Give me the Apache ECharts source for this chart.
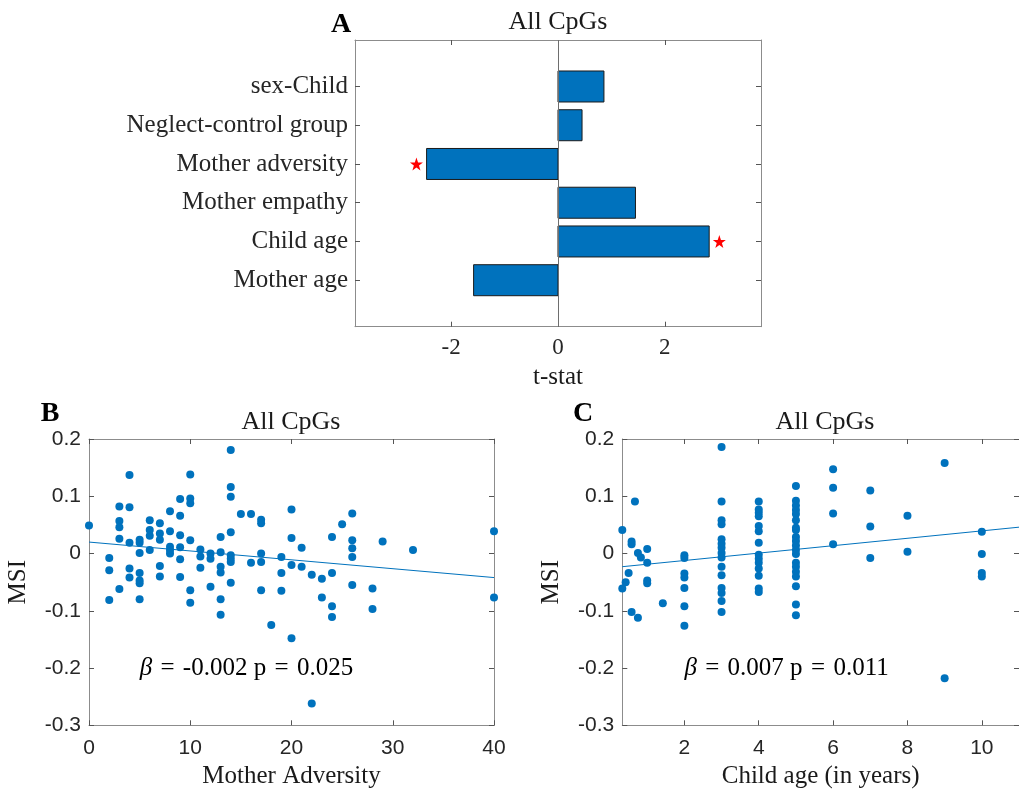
<!DOCTYPE html>
<html>
<head>
<meta charset="utf-8">
<script src="https://cdn.jsdelivr.net/npm/echarts@6/dist/echarts.min.js"></script>
<style>
html,body{margin:0;padding:0;background:#fff;}
#chart{width:1019px;height:791px;}
</style>
</head>
<body>
<div id="chart"></div>
<script>
// ---------- Panel A data ----------
const catNames = ['Mother age', 'Child age', 'Mother empathy', 'Mother adversity', 'Neglect-control group', 'sex-Child'];
const tStats   = [-1.58, 2.83, 1.45, -2.46, 0.45, 0.86];
const sigFlags = [false, true, false, true, false, false];
const tTicks   = [-2, 0, 2];

// ---------- Panel B data (Mother Adversity vs MSI) ----------
const advX = [0,
  2,2,2,
  3,3,3,3,3,
  4,4,4,4,4,
  5,5,5,5,5,5,5,
  6,6,6,6,
  7,7,7,7,7,
  8,8,8,8,8,
  9,9,9,9,9,9,
  10,10,10,10,10,10,
  11,11,11,
  12,12,12,
  13,13,13,13,13,13,
  14,14,14,14,14,14,14,14,
  15,
  16,16,
  17,17,17,17,17,
  18,
  19,19,19,
  20,20,20,20,
  21,21,
  22,22,
  23,23,
  24,24,24,24,
  25,
  26,26,26,26,26,
  28,28,
  29,
  32,
  40,40];
const advMSI = [0.049,
  -0.008,-0.029,-0.081,
  0.082,0.057,0.046,0.026,-0.062,
  0.137,0.081,0.019,-0.026,-0.042,
  0.024,0.019,0.001,-0.034,-0.047,-0.052,-0.080,
  0.058,0.041,0.031,0.006,
  0.053,0.035,0.024,-0.022,-0.040,
  0.074,0.039,0.012,0.006,0.000,
  0.095,0.066,0.032,0.011,-0.010,-0.041,
  0.138,0.096,0.088,0.023,-0.064,-0.086,
  0.007,-0.005,-0.025,
  0.000,-0.009,-0.058,
  0.029,0.002,-0.023,-0.033,-0.080,-0.107,
  0.181,0.116,0.099,0.037,-0.003,-0.009,-0.015,-0.051,
  0.069,
  0.069,-0.016,
  0.059,0.053,0.000,-0.015,-0.064,
  -0.125,
  -0.006,-0.034,-0.065,
  0.077,0.027,-0.020,-0.148,
  0.010,-0.023,
  -0.037,-0.262,
  -0.044,-0.077,
  0.029,-0.034,-0.092,-0.111,
  0.051,
  0.070,0.023,0.009,-0.006,-0.055,
  -0.061,-0.097,
  0.021,
  0.006,
  0.039,-0.077];
const fitBX = [0, 40];
const fitBY = [0.020, -0.042];
const betaB = '-0.002', pB = '0.025';

// ---------- Panel C data (Child age vs MSI) ----------
const ageX = [0.33,0.33,0.42,0.5,0.58,0.58,0.67,0.75,0.83,1,1,1,1,0.58,0.75,1.42,
  2,2,2,2,2,2,2,
  3,3,3,3,3,3,3,3,3,3,3,3,3,3,3,
  4,4,4,4,4,4,4,4,4,4,4,4,4,4,
  5,5,5,5,5,5,5,5,5,5,5,5,5,5,5,5,5,5,5,5,
  6,6,6,6,
  7,7,7,
  8,8,
  9,9,
  10,10,10,10];
const ageMSI = [0.041,-0.061,-0.050,-0.034,0.021,0.016,0.091,0.001,-0.007,0.008,-0.016,-0.047,-0.052,-0.102,-0.112,-0.087,
  -0.003,-0.008,-0.035,-0.042,-0.060,-0.092,-0.126,
  0.186,0.091,0.058,0.051,0.025,0.017,0.010,0.001,-0.007,-0.023,-0.038,-0.060,-0.069,-0.083,-0.102,
  0.091,0.077,0.071,0.065,0.048,0.039,0.019,-0.002,-0.009,-0.016,-0.026,-0.039,-0.061,-0.067,
  0.118,0.092,0.084,0.076,0.069,0.058,0.045,0.041,0.029,0.022,0.014,0.006,-0.001,-0.016,-0.023,-0.032,-0.040,-0.057,-0.089,-0.108,
  0.147,0.115,0.070,0.016,
  0.110,0.047,-0.008,
  0.066,0.003,
  0.158,-0.218,
  0.038,-0.001,-0.034,-0.040];
const fitCX = [0.33, 11];
const fitCY = [-0.023, 0.046];
const betaC = '0.007', pC = '0.011';
const ageTicks = [2, 4, 6, 8, 10];

// ---------- styling ----------
const serif = "'Liberation Serif', 'Times New Roman', serif";
const sans = "'Liberation Sans', Arial, sans-serif";
const axisGray = '#8c8c8c';
const tickTxt = '#262626';
const blue = '#0072BD';
const sp = '\u2004';

const chart = echarts.init(document.getElementById('chart'), null, {renderer: 'canvas'});

function baseAxis(extra) {
  return Object.assign({
    type: 'value',
    axisLine: {show: true, onZero: false, lineStyle: {color: axisGray, width: 1}},
    axisTick: {show: true, inside: true, length: 5, lineStyle: {color: '#555', width: 1}},
    splitLine: {show: false},
    axisLabel: {show: false}
  }, extra);
}

const starPath = 'path://M50,0 L61.8,35.1 L97.6,34.5 L68.8,56.9 L79.4,90.9 L50,70.5 L20.6,90.9 L31.2,56.9 L2.4,34.5 L38.2,35.1 Z';

const barData = tStats.map((v, i) => [v, i + 1]);
const starData = [];
tStats.forEach((v, i) => { if (sigFlags[i]) starData.push([Math.sign(v) * (Math.abs(v) + 0.19), i + 1]); });

const posTicks = catNames.map((_, i) => i + 1);

function annot(xi, pos, beta, p) {
  return {
    type: 'scatter', xAxisIndex: xi, yAxisIndex: xi,
    data: [pos], symbolSize: 0, silent: true,
    itemStyle: {opacity: 1},
    label: {show: true, position: 'right', distance: 0, opacity: 1,
      formatter: '{it|\u03B2}' + sp + '=' + sp + beta + ' p' + sp + '=' + sp + p,
      fontFamily: serif, fontSize: 25, color: '#000',
      rich: {it: {fontFamily: serif, fontSize: 25, fontStyle: 'italic', color: '#000'}}}
  };
}

const option = {
  animation: false,
  backgroundColor: '#fff',
  grid: [
    {left: 355, top: 40, width: 406, height: 286.7},
    {left: 89, top: 439, width: 405, height: 286.3},
    {left: 622.3, top: 439, width: 405.4, height: 286.3}
  ],
  xAxis: [
    baseAxis({gridIndex: 0, position: 'bottom', min: -3.8, max: 3.8,
      axisTick: {show: true, inside: true, length: 5, customValues: tTicks, lineStyle: {color: '#555'}},
      axisLabel: {show: true, customValues: tTicks, margin: 10, fontFamily: serif, fontSize: 23, color: tickTxt},
      name: 't-stat', nameLocation: 'middle', nameGap: 38,
      nameTextStyle: {fontFamily: serif, fontSize: 25, color: '#1a1a1a'}}),
    baseAxis({gridIndex: 0, position: 'top', min: -3.8, max: 3.8,
      axisTick: {show: true, inside: true, length: 5, customValues: tTicks, lineStyle: {color: '#555'}}}),
    baseAxis({gridIndex: 1, position: 'bottom', min: 0, max: 40, interval: 10,
      axisLabel: {show: true, margin: 12, fontFamily: sans, fontSize: 21, color: tickTxt},
      name: 'Mother Adversity', nameLocation: 'middle', nameGap: 39,
      nameTextStyle: {fontFamily: serif, fontSize: 25, color: '#1a1a1a'}}),
    baseAxis({gridIndex: 1, position: 'top', min: 0, max: 40, interval: 10}),
    baseAxis({gridIndex: 2, position: 'bottom', min: 0.33, max: 11,
      axisTick: {show: true, inside: true, length: 5, customValues: ageTicks, lineStyle: {color: '#555'}},
      axisLabel: {show: true, customValues: ageTicks, margin: 12, fontFamily: sans, fontSize: 21, color: tickTxt},
      name: 'Child age (in years)', nameLocation: 'middle', nameGap: 39,
      nameTextStyle: {fontFamily: serif, fontSize: 25, color: '#1a1a1a'}}),
    baseAxis({gridIndex: 2, position: 'top', min: 0.33, max: 11,
      axisTick: {show: true, inside: true, length: 5, customValues: ageTicks, lineStyle: {color: '#555'}}})
  ],
  yAxis: [
    baseAxis({gridIndex: 0, position: 'left', min: -0.2, max: 7.2,
      axisTick: {show: true, inside: true, length: 5, customValues: posTicks, lineStyle: {color: '#555'}},
      axisLabel: {show: true, customValues: posTicks, margin: 7, fontFamily: serif, fontSize: 25, color: tickTxt,
        formatter: v => catNames[Math.round(v) - 1] || ''}}),
    baseAxis({gridIndex: 0, position: 'right', min: -0.2, max: 7.2,
      axisTick: {show: true, inside: true, length: 5, customValues: posTicks, lineStyle: {color: '#555'}}}),
    baseAxis({gridIndex: 1, position: 'left', min: -0.3, max: 0.2, interval: 0.1,
      axisLabel: {show: true, margin: 8, fontFamily: sans, fontSize: 21, color: tickTxt,
        formatter: v => String(+(+v).toFixed(1))},
      name: 'MSI', nameLocation: 'middle', nameGap: 58,
      nameTextStyle: {fontFamily: serif, fontSize: 25, color: '#1a1a1a'}}),
    baseAxis({gridIndex: 1, position: 'right', min: -0.3, max: 0.2, interval: 0.1}),
    baseAxis({gridIndex: 2, position: 'left', min: -0.3, max: 0.2, interval: 0.1,
      axisLabel: {show: true, margin: 8, fontFamily: sans, fontSize: 21, color: tickTxt,
        formatter: v => String(+(+v).toFixed(1))},
      name: 'MSI', nameLocation: 'middle', nameGap: 58,
      nameTextStyle: {fontFamily: serif, fontSize: 25, color: '#1a1a1a'}}),
    baseAxis({gridIndex: 2, position: 'right', min: -0.3, max: 0.2, interval: 0.1})
  ],
  series: [
    {
      type: 'custom', xAxisIndex: 0, yAxisIndex: 0,
      data: barData, encode: {x: 0, y: 1},
      renderItem: function (params, api) {
        const v = api.value(0), p = api.value(1);
        const a = api.coord([0, p]);
        const b = api.coord([v, p]);
        const h = api.size([0, 0.8])[1];
        return {
          type: 'rect',
          shape: {x: Math.min(a[0], b[0]), y: a[1] - h / 2, width: Math.abs(b[0] - a[0]), height: h},
          style: {fill: blue, stroke: '#1a1a1a', lineWidth: 1}
        };
      },
      z: 2
    },
    {
      type: 'scatter', xAxisIndex: 0, yAxisIndex: 0,
      data: starData, symbol: starPath, symbolSize: 13,
      itemStyle: {color: '#ff0000', opacity: 1},
      markLine: {
        silent: true, symbol: 'none', label: {show: false},
        lineStyle: {color: '#6e6e6e', width: 1, type: 'solid'},
        data: [{xAxis: 0}]
      },
      z: 3
    },
    {
      type: 'scatter', xAxisIndex: 2, yAxisIndex: 2,
      data: advX.map((x, i) => [x, advMSI[i]]),
      symbolSize: 8, itemStyle: {color: blue, opacity: 1}, clip: false
    },
    {
      type: 'line', xAxisIndex: 2, yAxisIndex: 2,
      data: fitBX.map((x, i) => [x, fitBY[i]]),
      showSymbol: false, lineStyle: {color: blue, width: 1}
    },
    annot(2, [5, -0.2], betaB, pB),
    {
      type: 'scatter', xAxisIndex: 4, yAxisIndex: 4,
      data: ageX.map((x, i) => [x, ageMSI[i]]),
      symbolSize: 8, itemStyle: {color: blue, opacity: 1}, clip: false
    },
    {
      type: 'line', xAxisIndex: 4, yAxisIndex: 4,
      data: fitCX.map((x, i) => [x, fitCY[i]]),
      showSymbol: false, lineStyle: {color: blue, width: 1}
    },
    annot(4, [2, -0.2], betaC, pC)
  ],
  graphic: [
    {type: 'text', x: 558, y: 22, style: {text: 'All CpGs', fontFamily: serif, fontSize: 26, fill: '#1a1a1a', align: 'center', verticalAlign: 'middle'}},
    {type: 'text', x: 291, y: 422, style: {text: 'All CpGs', fontFamily: serif, fontSize: 26, fill: '#1a1a1a', align: 'center', verticalAlign: 'middle'}},
    {type: 'text', x: 825, y: 422, style: {text: 'All CpGs', fontFamily: serif, fontSize: 26, fill: '#1a1a1a', align: 'center', verticalAlign: 'middle'}},
    {type: 'text', x: 341, y: 25, style: {text: 'A', fontFamily: serif, fontWeight: 'bold', fontSize: 28, fill: '#000', align: 'center', verticalAlign: 'middle'}},
    {type: 'text', x: 50, y: 414, style: {text: 'B', fontFamily: serif, fontWeight: 'bold', fontSize: 28, fill: '#000', align: 'center', verticalAlign: 'middle'}},
    {type: 'text', x: 583, y: 414, style: {text: 'C', fontFamily: serif, fontWeight: 'bold', fontSize: 28, fill: '#000', align: 'center', verticalAlign: 'middle'}}
  ]
};

chart.setOption(option);
</script>
</body>
</html>
